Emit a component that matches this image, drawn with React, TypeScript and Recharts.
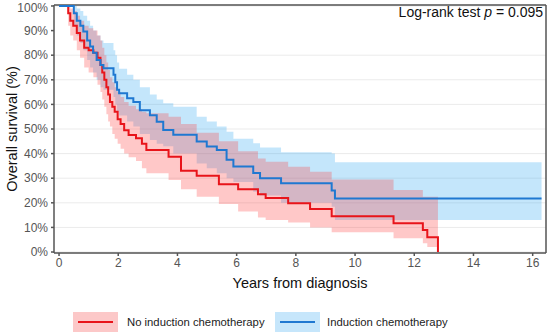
import React from "react";
import { ComposedChart, Line, Area, XAxis, YAxis, CartesianGrid, ReferenceLine } from "recharts";

// No induction chemotherapy (red): KM step times, survival and 95% CI
const redTimes = [0, 0.31, 0.38, 0.48, 0.6, 0.71, 0.85, 1.0, 1.16, 1.3, 1.4, 1.46, 1.53, 1.6, 1.66, 1.72, 1.8, 1.88, 1.98, 2.08, 2.2, 2.35, 2.6, 2.8, 2.95, 3.7, 4.12, 4.65, 5.4, 6.05, 6.72, 6.98, 7.74, 8.48, 9.21, 11.3, 12.29, 12.44, 12.8];
const redSurv = [100, 97, 94, 92, 89, 86, 83, 82, 81, 79, 76, 73, 70, 67, 64, 61, 59, 57, 54, 52, 49.5, 47.6, 46.2, 44, 41.5, 38.7, 33, 31, 27.5, 25.5, 23.5, 22, 19.8, 17.5, 14.5, 11.7, 8.9, 6, 0];
const redLow = [100, 92, 88, 86, 82, 79, 75, 73, 71, 68, 65, 62, 59, 56, 53, 51, 48, 46, 44, 42, 40, 38.5, 37, 34, 32, 29.3, 25.5, 22.5, 19.5, 16.5, 14, 13, 12, 10, 8, 5.6, 3.6, 2, 0];
const redHigh = [100, 100, 99, 98, 96, 94, 92, 91, 90, 88, 86, 83, 80, 77, 74, 71, 69, 67, 65, 63, 61, 59.5, 58, 57, 56.4, 55, 52, 48.5, 45, 41, 38, 36.7, 34.7, 32.6, 29.5, 25.2, 22.5, 22.5, 22.5];

// Induction chemotherapy (blue)
const blueTimes = [0, 0.5, 0.6, 0.72, 0.82, 0.95, 1.05, 1.15, 1.27, 1.4, 1.5, 1.84, 1.9, 1.96, 2.03, 2.3, 2.51, 2.73, 3.07, 3.3, 3.52, 3.86, 4.65, 4.99, 5.33, 5.66, 5.89, 6.56, 6.79, 7.5, 9.21, 9.32, 16.3];
const blueSurv = [100, 97, 94, 92, 89.6, 86, 83.5, 81, 78, 76, 74.7, 72, 69, 66, 64.5, 62.5, 61, 57.6, 55.6, 52.9, 49.6, 47.7, 44.9, 42.9, 41.5, 37.5, 34.8, 32.1, 30, 27.9, 25, 21.8, 21.8];
const blueLow = [100, 92, 88, 85, 82, 78, 75, 73, 70, 67, 66, 63, 60, 57, 55.5, 53, 51, 48, 45.5, 44, 43, 40, 36, 34, 32, 30, 28.5, 24.5, 23, 20, 18.4, 13, 13];
const blueHigh = [100, 100, 99, 98, 96, 94, 92, 90, 88, 86, 85, 82, 80, 77, 74.5, 72, 70, 67, 64, 62, 60.5, 59, 55, 53, 51, 48.9, 46, 44.2, 42.5, 40.5, 40, 36.5, 36.5];

const xTicks = [0, 2, 4, 6, 8, 10, 12, 14, 16];
const yTicks = [0, 10, 20, 30, 40, 50, 60, 70, 80, 90, 100];

const RED = "#e8141a";
const BLUE = "#1f78d1";
const FONT = '"Liberation Sans", Arial, sans-serif';

function stepAt(times: number[], vals: number[], t: number) {
  if (t < times[0] || t > times[times.length - 1] + 1e-9) return null;
  let v: number | null = null;
  for (let i = 0; i < times.length; i++) {
    if (times[i] <= t + 1e-9) v = vals[i];
  }
  return v;
}

const allTimes = Array.from(new Set([...redTimes, ...blueTimes])).sort((a, b) => a - b);

const rows = allTimes.map((t) => {
  const red = stepAt(redTimes, redSurv, t);
  const blue = stepAt(blueTimes, blueSurv, t);
  return {
    t,
    red,
    blue,
    redBand: red == null ? null : [stepAt(redTimes, redLow, t), stepAt(redTimes, redHigh, t)],
    blueBand: blue == null ? null : [stepAt(blueTimes, blueLow, t), stepAt(blueTimes, blueHigh, t)],
  };
});

export default function App() {
  return (
    <div style={{ position: "absolute", left: 0, top: 0, width: 550, height: 335, fontFamily: FONT, background: "#fff" }}>
      <ComposedChart width={550} height={335} data={rows} margin={{ top: 5, right: 4, bottom: 42, left: 0 }}>
        <CartesianGrid vertical={false} stroke="#ebebeb" />
        <XAxis
          type="number"
          dataKey="t"
          domain={[-0.17, 16.45]}
          allowDataOverflow
          ticks={xTicks}
          height={40}
          tickSize={3}
          tickMargin={2}
          stroke="#555"
          strokeWidth={1.5}
          tick={{ fill: "#555", fontSize: 12, fontFamily: FONT }}
        />
        <YAxis
          type="number"
          domain={[-0.4, 100.4]}
          allowDataOverflow
          ticks={yTicks}
          width={54}
          tickSize={3}
          tickMargin={3}
          stroke="#555"
          strokeWidth={1.5}
          tickFormatter={(v) => `${v}%`}
          tick={{ fill: "#555", fontSize: 12, fontFamily: FONT }}
        />
        <ReferenceLine y={100.4} stroke="#555" strokeWidth={1.5} />
        <ReferenceLine x={16.45} stroke="#555" strokeWidth={1.5} />
        <Area
          dataKey="blueBand"
          type="stepAfter"
          fill="#2aa6f2"
          fillOpacity={0.28}
          stroke="none"
          isAnimationActive={false}
          activeDot={false}
        />
        <Area
          dataKey="redBand"
          type="stepAfter"
          fill="#ff3b3b"
          fillOpacity={0.28}
          stroke="none"
          isAnimationActive={false}
          activeDot={false}
        />
        <Line dataKey="red" type="stepAfter" stroke={RED} strokeWidth={2} dot={false} activeDot={false} isAnimationActive={false} />
        <Line dataKey="blue" type="stepAfter" stroke={BLUE} strokeWidth={2} dot={false} activeDot={false} isAnimationActive={false} />
      </ComposedChart>

      <div style={{ position: "absolute", right: 7, top: 4, fontSize: 14, color: "#111", whiteSpace: "nowrap" }}>
        Log-rank test <i>p</i> = 0.095
      </div>
      <div
        style={{
          position: "absolute",
          left: 300,
          top: 283,
          transform: "translate(-50%, -50%)",
          fontSize: 14.5,
          color: "#111",
          whiteSpace: "nowrap",
        }}
      >
        Years from diagnosis
      </div>
      <div
        style={{
          position: "absolute",
          left: 12,
          top: 129,
          transform: "translate(-50%, -50%) rotate(-90deg)",
          fontSize: 14.5,
          color: "#111",
          whiteSpace: "nowrap",
        }}
      >
        Overall survival (%)
      </div>

      <div style={{ position: "absolute", left: 73, top: 312, width: 45, height: 20, background: "#fcc8c8" }}>
        <div style={{ position: "absolute", left: 5, right: 5, top: 9, height: 2, background: RED }} />
      </div>
      <div style={{ position: "absolute", left: 127, top: 322, transform: "translateY(-50%)", fontSize: 11.3, color: "#222", whiteSpace: "nowrap" }}>
        No induction chemotherapy
      </div>
      <div style={{ position: "absolute", left: 275, top: 312, width: 45, height: 20, background: "#c6e6fb" }}>
        <div style={{ position: "absolute", left: 5, right: 5, top: 9, height: 2, background: BLUE }} />
      </div>
      <div style={{ position: "absolute", left: 327, top: 322, transform: "translateY(-50%)", fontSize: 11.3, color: "#222", whiteSpace: "nowrap" }}>
        Induction chemotherapy
      </div>
    </div>
  );
}
